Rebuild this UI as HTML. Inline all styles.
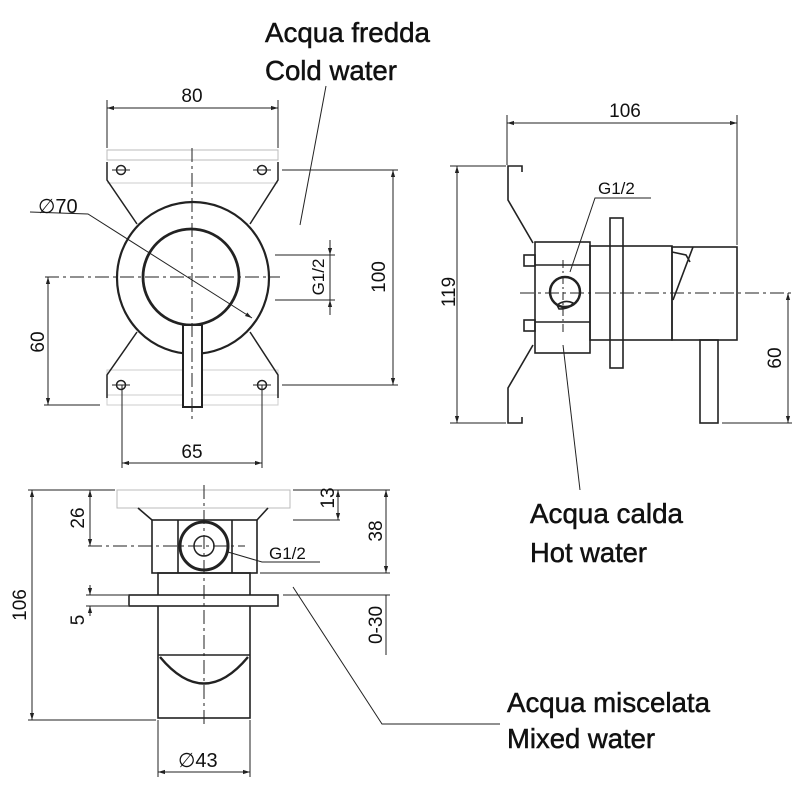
<!DOCTYPE html>
<html><head><meta charset="utf-8"><style>html,body{margin:0;padding:0;background:#fff}svg{display:block}</style></head>
<body>
<svg width="800" height="800" viewBox="0 0 800 800" xmlns="http://www.w3.org/2000/svg" font-family="Liberation Sans, Arial, sans-serif">
<defs>
<marker id="a" viewBox="0 0 10 10" refX="10" refY="5" markerWidth="7" markerHeight="7" orient="auto-start-reverse"><path d="M0,2 L10,5 L0,8 z" fill="#222"/></marker>
</defs>
<g fill="none" stroke="#222" stroke-width="1">
<line x1="107" y1="108" x2="278" y2="108" marker-start="url(#a)" marker-end="url(#a)"/>
<line x1="107" y1="100" x2="107" y2="148"/><line x1="278" y1="100" x2="278" y2="148"/>
<rect x="107" y="150" width="171" height="10" stroke="#bbb"/>
<line x1="107" y1="183" x2="278" y2="183" stroke="#ccc"/>
<rect x="107" y="370" width="171" height="35" stroke="#ccc"/>
<line x1="107" y1="395" x2="278" y2="395" stroke="#ccc"/>
<g stroke-width="1.5">
<circle cx="121" cy="170" r="4.5"/><circle cx="262" cy="170" r="4.5"/>
<circle cx="121" cy="385" r="4.5"/><circle cx="262" cy="385" r="4.5"/>
<polyline points="107,162 107,180 137,224"/><polyline points="278,162 278,180 250,224"/>
<polyline points="137,332 107,375 107,398"/><polyline points="250,332 278,375 278,398"/>
</g>
<circle cx="193" cy="278" r="76" stroke-width="2.2"/>
<circle cx="191" cy="277" r="48" stroke-width="2.8"/>
<rect x="183" y="325" width="19" height="82" stroke-width="2" fill="#fff"/>
<line x1="192" y1="148" x2="192" y2="422" stroke-dasharray="14,4,3,4"/>
<line x1="45" y1="277" x2="280" y2="277" stroke-dasharray="14,4,3,4"/>
<line x1="112" y1="170" x2="130" y2="170"/><line x1="253" y1="170" x2="271" y2="170"/>
<line x1="112" y1="385" x2="130" y2="385"/><line x1="253" y1="385" x2="271" y2="385"/>
<polyline points="30,212 88,214 252,318" marker-end="url(#a)"/>
<line x1="275" y1="255" x2="335" y2="255"/><line x1="275" y1="300" x2="335" y2="300"/>
<line x1="330" y1="240" x2="330" y2="255" marker-end="url(#a)"/><line x1="330" y1="315" x2="330" y2="300" marker-end="url(#a)"/>
<line x1="330" y1="255" x2="330" y2="300"/>
<line x1="282" y1="170" x2="398" y2="170"/><line x1="282" y1="385" x2="398" y2="385"/>
<line x1="393" y1="170" x2="393" y2="385" marker-start="url(#a)" marker-end="url(#a)"/>
<line x1="48" y1="277" x2="48" y2="405" marker-start="url(#a)" marker-end="url(#a)"/>
<line x1="44" y1="405" x2="100" y2="405"/>
<line x1="122" y1="385" x2="122" y2="468"/><line x1="262" y1="385" x2="262" y2="468"/>
<line x1="122" y1="463" x2="262" y2="463" marker-start="url(#a)" marker-end="url(#a)"/>
<line x1="326" y1="86" x2="300" y2="225"/>
<line x1="507" y1="123" x2="737" y2="123" marker-start="url(#a)" marker-end="url(#a)"/>
<line x1="507" y1="115" x2="507" y2="165"/><line x1="737" y1="115" x2="737" y2="245"/>
<line x1="457" y1="166" x2="457" y2="423" marker-start="url(#a)" marker-end="url(#a)"/>
<line x1="450" y1="166" x2="506" y2="166"/><line x1="450" y1="423" x2="506" y2="423"/>
<g stroke-width="1.6">
<polyline points="522,172 522,166 508,166 508,200 533,243"/>
<polyline points="533,345 508,388 508,423 522,423 522,417"/>
<rect x="535" y="242" width="55" height="111"/>
<line x1="535" y1="265" x2="590" y2="265"/><line x1="535" y1="322" x2="590" y2="322"/>
<rect x="524" y="255" width="11" height="11"/><rect x="524" y="320" width="11" height="11"/>
<circle cx="565" cy="292" r="15" stroke-width="2.5"/>
<rect x="610" y="218" width="13" height="150"/>
<rect x="590" y="246" width="82" height="94"/>
<rect x="672" y="247" width="65" height="93"/>
<polyline points="693,247 673,300"/>
<polyline points="672,252 686,255 690,262"/>
<rect x="700" y="340" width="18" height="83"/>
</g>
<path d="M557,305 q8,-6 16,-2 q-3,6 -14,6 z" stroke-width="1.6"/>
<line x1="520" y1="293" x2="792" y2="293" stroke-dasharray="14,4,3,4"/>
<line x1="563" y1="260" x2="563" y2="335" stroke-dasharray="8,3,2,3"/>
<line x1="788" y1="293" x2="788" y2="423" marker-start="url(#a)" marker-end="url(#a)"/>
<line x1="722" y1="423" x2="792" y2="423"/>
<polyline points="651,198 595,198 570,272"/>
<line x1="563" y1="345" x2="580" y2="490"/>
<rect x="117" y="490" width="173" height="18" stroke="#bbb"/>
<g stroke-width="1.6">
<polyline points="138,508 152,520"/><polyline points="268,508 257,520"/>
<rect x="152" y="520" width="105" height="53"/>
<line x1="178" y1="520" x2="178" y2="573"/><line x1="232" y1="520" x2="232" y2="573"/>
<rect x="158" y="573" width="92" height="145"/>
<rect x="129" y="595" width="149" height="11" fill="#fff"/>
<path d="M160,657 Q204,710 248,657" stroke-width="2.4"/>
<line x1="158" y1="655" x2="250" y2="655"/>
</g>
<circle cx="204" cy="546" r="24" stroke-width="3"/>
<circle cx="204" cy="546" r="10" stroke-width="1.5"/>
<line x1="204" y1="485" x2="204" y2="725" stroke-dasharray="14,4,3,4"/>
<line x1="88" y1="546" x2="245" y2="546" stroke-dasharray="14,4,3,4"/>
<line x1="28" y1="490" x2="115" y2="490"/><line x1="28" y1="720" x2="156" y2="720"/>
<line x1="32" y1="490" x2="32" y2="720" marker-start="url(#a)" marker-end="url(#a)"/>
<line x1="90" y1="490" x2="90" y2="546" marker-start="url(#a)" marker-end="url(#a)"/>
<line x1="86" y1="595" x2="128" y2="595"/><line x1="86" y1="606" x2="128" y2="606"/>
<line x1="90" y1="585" x2="90" y2="595" marker-end="url(#a)"/><line x1="90" y1="616" x2="90" y2="606" marker-end="url(#a)"/>
<line x1="293" y1="490" x2="390" y2="490"/>
<line x1="293" y1="520" x2="340" y2="520"/>
<line x1="338" y1="490" x2="338" y2="520" marker-start="url(#a)" marker-end="url(#a)"/>
<line x1="260" y1="573" x2="390" y2="573"/><line x1="283" y1="595" x2="390" y2="595"/>
<line x1="386" y1="490" x2="386" y2="573" marker-start="url(#a)" marker-end="url(#a)"/>
<line x1="386" y1="595" x2="386" y2="655"/>
<line x1="158" y1="720" x2="158" y2="777"/><line x1="250" y1="720" x2="250" y2="777"/>
<line x1="158" y1="772" x2="250" y2="772" marker-start="url(#a)" marker-end="url(#a)"/>
<polyline points="228,552 262,562 320,562"/>
<polyline points="293,587 382,724 500,724"/>
</g>
<g fill="#111" font-size="19">
<text x="192" y="102" text-anchor="middle">80</text>
<text x="38" y="213" font-size="20">∅70</text>
<text x="192" y="458" text-anchor="middle">65</text>
<text transform="translate(324,277) rotate(-90)" text-anchor="middle" font-size="17">G1/2</text>
<text transform="translate(385,277) rotate(-90)" text-anchor="middle">100</text>
<text transform="translate(44,342) rotate(-90)" text-anchor="middle">60</text>
<text x="625" y="117" text-anchor="middle">106</text>
<text x="598" y="194" font-size="17">G1/2</text>
<text transform="translate(455,292) rotate(-90)" text-anchor="middle">119</text>
<text transform="translate(781,358) rotate(-90)" text-anchor="middle">60</text>
<text transform="translate(26,605) rotate(-90)" text-anchor="middle">106</text>
<text transform="translate(84,518) rotate(-90)" text-anchor="middle">26</text>
<text transform="translate(84,620) rotate(-90)" text-anchor="middle">5</text>
<text transform="translate(334,498) rotate(-90)" text-anchor="middle">13</text>
<text transform="translate(382,531) rotate(-90)" text-anchor="middle">38</text>
<text transform="translate(382,625) rotate(-90)" text-anchor="middle">0-30</text>
<text x="269" y="559" font-size="17">G1/2</text>
<text x="178" y="767" font-size="20">∅43</text>
</g>
<g fill="#111" font-size="28" stroke="#111" stroke-width="0.5">
<text x="265" y="42" textLength="165" lengthAdjust="spacingAndGlyphs">Acqua fredda</text>
<text x="265" y="80" textLength="132" lengthAdjust="spacingAndGlyphs">Cold water</text>
<text x="530" y="523" textLength="153" lengthAdjust="spacingAndGlyphs">Acqua calda</text>
<text x="530" y="562" textLength="117" lengthAdjust="spacingAndGlyphs">Hot water</text>
<text x="507" y="712" textLength="203" lengthAdjust="spacingAndGlyphs">Acqua miscelata</text>
<text x="507" y="748" textLength="148" lengthAdjust="spacingAndGlyphs">Mixed water</text>
</g>
</svg>
</body></html>
